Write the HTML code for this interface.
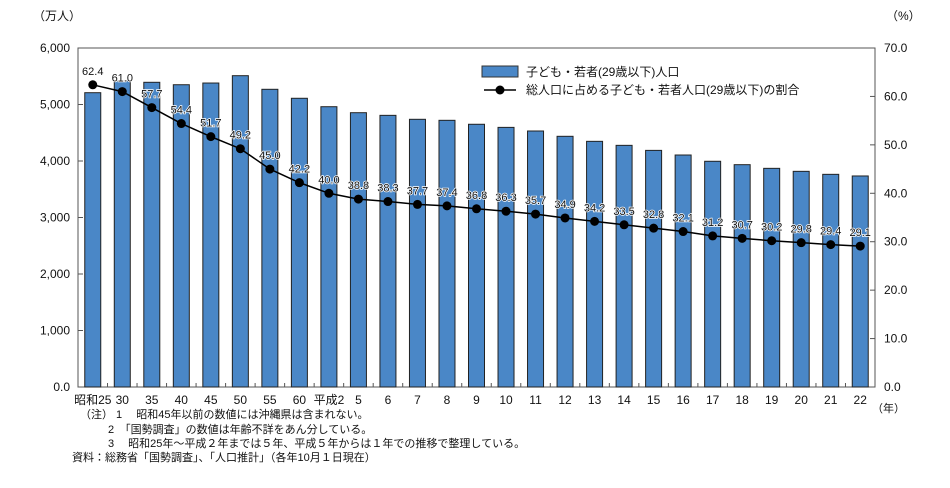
<!DOCTYPE html>
<html><head><meta charset="utf-8"><style>
body{margin:0;background:#fff;}
svg text{font-family:"Liberation Sans","Noto Sans CJK JP",sans-serif;fill:#111;}
</style></head><body>
<svg width="950" height="483" viewBox="0 0 950 483" xmlns="http://www.w3.org/2000/svg">
<g id="g"></g>
</svg>
<script>
const categories=["昭和25","30","35","40","45","50","55","60","平成2","5","6","7","8","9","10","11","12","13","14","15","16","17","18","19","20","21","22"];
const population=[5209,5420,5393,5350,5380,5510,5269,5110,4961,4855,4808,4738,4720,4650,4595,4531,4437,4348,4277,4188,4106,3995,3935,3870,3817,3764,3735];
const ratio=[62.4,61.0,57.7,54.4,51.7,49.2,45.0,42.2,40.0,38.8,38.3,37.7,37.4,36.8,36.3,35.7,34.9,34.2,33.5,32.8,32.1,31.2,30.7,30.2,29.8,29.4,29.1];
const leftTicks=["0.0","1,000","2,000","3,000","4,000","5,000","6,000"];
const rightTicks=["0.0","10.0","20.0","30.0","40.0","50.0","60.0","70.0"];
const L=78,R=875,T=48,B=387;
const n=categories.length,bw=(R-L)/n;
const xc=i=>L+bw*(i+0.5);
const yL=v=>B-(v/6000)*(B-T);
const yR=v=>B-(v/70)*(B-T);
const g=document.getElementById('g');
const NS="http://www.w3.org/2000/svg";
function mk(t,a,txt){const e=document.createElementNS(NS,t);for(const k in a)e.setAttribute(k,a[k]);if(txt!=null)e.textContent=txt;g.appendChild(e);return e;}
let e;
e=mk('rect',{x:L,y:T,width:R-L,height:B-T,fill:'none',stroke:'#555','stroke-width':1});


leftTicks.forEach((t,i)=>{const y=B-i*(B-T)/6;
e=mk('line',{x1:L,x2:L+5,y1:y,y2:y,stroke:'#555'});


e=mk('text',{x:L-8,y:y+4,'text-anchor':'end','font-size':12},t);

});
rightTicks.forEach((t,i)=>{const y=B-i*(B-T)/7;
e=mk('line',{x1:R-5,x2:R,y1:y,y2:y,stroke:'#555'});


e=mk('text',{x:R+9,y:y+4,'font-size':12},t);

});
e=mk('text',{x:33,y:20,'font-size':12},'（万人）');


e=mk('text',{x:886,y:20,'font-size':12},'（%）');


e=mk('text',{x:872,y:412,'font-size':11},'（年）');


for(let i=1;i<n;i++){const x=L+bw*i;
e=mk('line',{x1:x,x2:x,y1:B-4,y2:B,stroke:'#555'});

}
population.forEach((v,i)=>{const x=xc(i)-8,y=yL(v);
e=mk('rect',{x:x,y:y,width:16,height:B-y,fill:'#4a87c7',stroke:'#222','stroke-width':1});


e=mk('text',{x:xc(i),y:404,'text-anchor':'middle','font-size':12},categories[i]);

});
e=mk('polyline',{points:ratio.map((v,i)=>xc(i)+','+yR(v)).join(' '),fill:'none',stroke:'#000','stroke-width':1.5});


ratio.forEach((v,i)=>{
e=mk('circle',{cx:xc(i),cy:yR(v),r:4.5,fill:'#000'});


e=mk('text',{x:xc(i),y:yR(v)-10,'text-anchor':'middle','font-size':11,stroke:'#fff','stroke-width':1.5,'paint-order':'stroke'},v.toFixed(1));

});
e=mk('rect',{x:482,y:66,width:36,height:11,fill:'#4a87c7',stroke:'#333'});


e=mk('text',{x:526,y:76,'font-size':12},'子ども・若者(29歳以下)人口');


e=mk('line',{x1:484,x2:516,y1:90,y2:90,stroke:'#000','stroke-width':1.5});


e=mk('circle',{cx:500,cy:90,r:4.5,fill:'#000'});


e=mk('text',{x:526,y:94,'font-size':12},'総人口に占める子ども・若者人口(29歳以下)の割合');


const notes=[[80,418,'（注）  1　 昭和45年以前の数値には沖縄県は含まれない。'],[108,433,'2　「国勢調査」の数値は年齢不詳をあん分している。'],[108,447,'3　 昭和25年～平成２年までは５年、平成５年からは１年での推移で整理している。'],[72,461,'資料：総務省「国勢調査」、「人口推計」（各年10月１日現在）']];
notes.forEach(nn=>{e=mk('text',{x:nn[0],y:nn[1],'font-size':11},nn[2]);

});
</script>
</body></html>
